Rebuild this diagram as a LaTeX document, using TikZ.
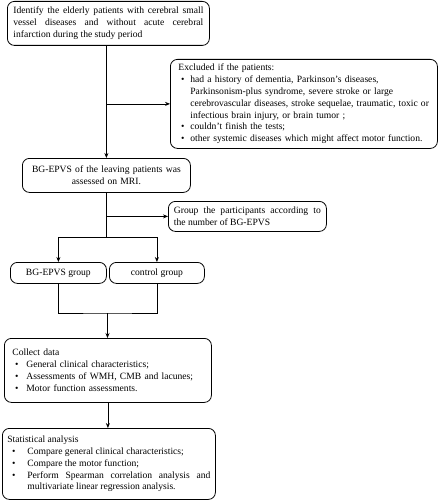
\documentclass[tikz,border=0pt]{standalone}
\usepackage{fontspec}
\setmainfont{Liberation Serif}
\usepackage{enumitem}
\usetikzlibrary{positioning,arrows.meta}
\setlist[itemize]{nosep,label=\textbullet}

\begin{document}
\begin{tikzpicture}[x=1pt,y=-1pt,
  box/.style={draw,rounded corners=7pt,line width=0.8pt,anchor=north west,
    inner xsep=6pt,inner ysep=2pt,font=\fontsize{9.6}{11.8}\selectfont},
  conn/.style={line width=0.7pt},
  arr/.style={conn,-{Stealth[length=5pt,width=4pt]}}]
  \useasboundingbox (0,0) rectangle (441,500);
  \node[box,text width=190pt,minimum height=44pt,align=justify] (identify) at (7,1)
    {Identify the elderly patients with cerebral small\linebreak
     vessel diseases and without acute cerebral\linebreak
     infarction during the study period};
  \node[box,text width=251pt,minimum height=89pt,inner xsep=8pt,align=left] (excluded) at (170,59)
    {Excluded if the patients:
     \begin{itemize}[leftmargin=12pt,labelsep=6pt]
       \item had a history of dementia, Parkinson’s diseases,\\
         Parkinsonism-plus syndrome, severe stroke or large\\
         cerebrovascular diseases, stroke sequelae, traumatic, toxic or\\
         infectious brain injury, or brain tumor ;
       \item couldn’t finish the tests;
       \item other systemic diseases which might affect motor function.
     \end{itemize}};
  \node[box,text width=156pt,minimum height=34pt,align=center] (mri) at (22,158)
    {BG-EPVS of the leaving patients was\\assessed on MRI.};
  \node[box,text width=147pt,minimum height=30pt,inner xsep=5.5pt,align=justify] (grouping) at (168,201)
    {Group the participants according to\linebreak the number of BG-EPVS};
  \node[box,minimum width=96pt,minimum height=21pt] (epvsgroup) at (10,262) {BG-EPVS group};
  \node[box,minimum width=95pt,minimum height=21pt] (control) at (109,262) {control group};
  \node[box,text width=191pt,minimum height=64pt,inner xsep=8pt,align=left] (collect) at (4,338)
    {Collect data
     \begin{itemize}[leftmargin=14pt,labelsep=8pt]
       \item General clinical characteristics;
       \item Assessments of WMH, CMB and lacunes;
       \item Motor function assessments.
     \end{itemize}};
  \node[box,text width=203pt,minimum height=71pt,inner xsep=5pt,align=justify] (stat) at (2,428)
    {Statistical analysis
     \begin{itemize}[leftmargin=20pt,labelsep=12pt]
       \item Compare general clinical characteristics;
       \item Compare the motor function;
       \item Perform Spearman correlation analysis and\linebreak
         multivariate linear regression analysis.
     \end{itemize}};
  % connectors
  \path (mri.south) ++(0,44.5) coordinate (split);
  \coordinate (join) at (107.5,313);
  \draw[arr] (identify.south -| mri.north) -- (mri.north);
  \draw[arr] (excluded.west -| mri.north) -- (excluded.west);
  \draw[conn] (mri.south) -- (split);
  \draw[arr] (grouping.west -| mri.south) -- (grouping.west);
  \draw[conn] (split -| epvsgroup.north) -- (split -| control.north);
  \draw[arr] (split -| epvsgroup.north) -- (epvsgroup.north);
  \draw[arr] (split -| control.north) -- (control.north);
  \draw[conn] (epvsgroup.south) |- (join) -| (control.south);
  \draw[arr] (join) -- (join |- collect.north);
  \draw[arr] (collect.south) -- (collect.south |- stat.north);
\end{tikzpicture}
\end{document}
